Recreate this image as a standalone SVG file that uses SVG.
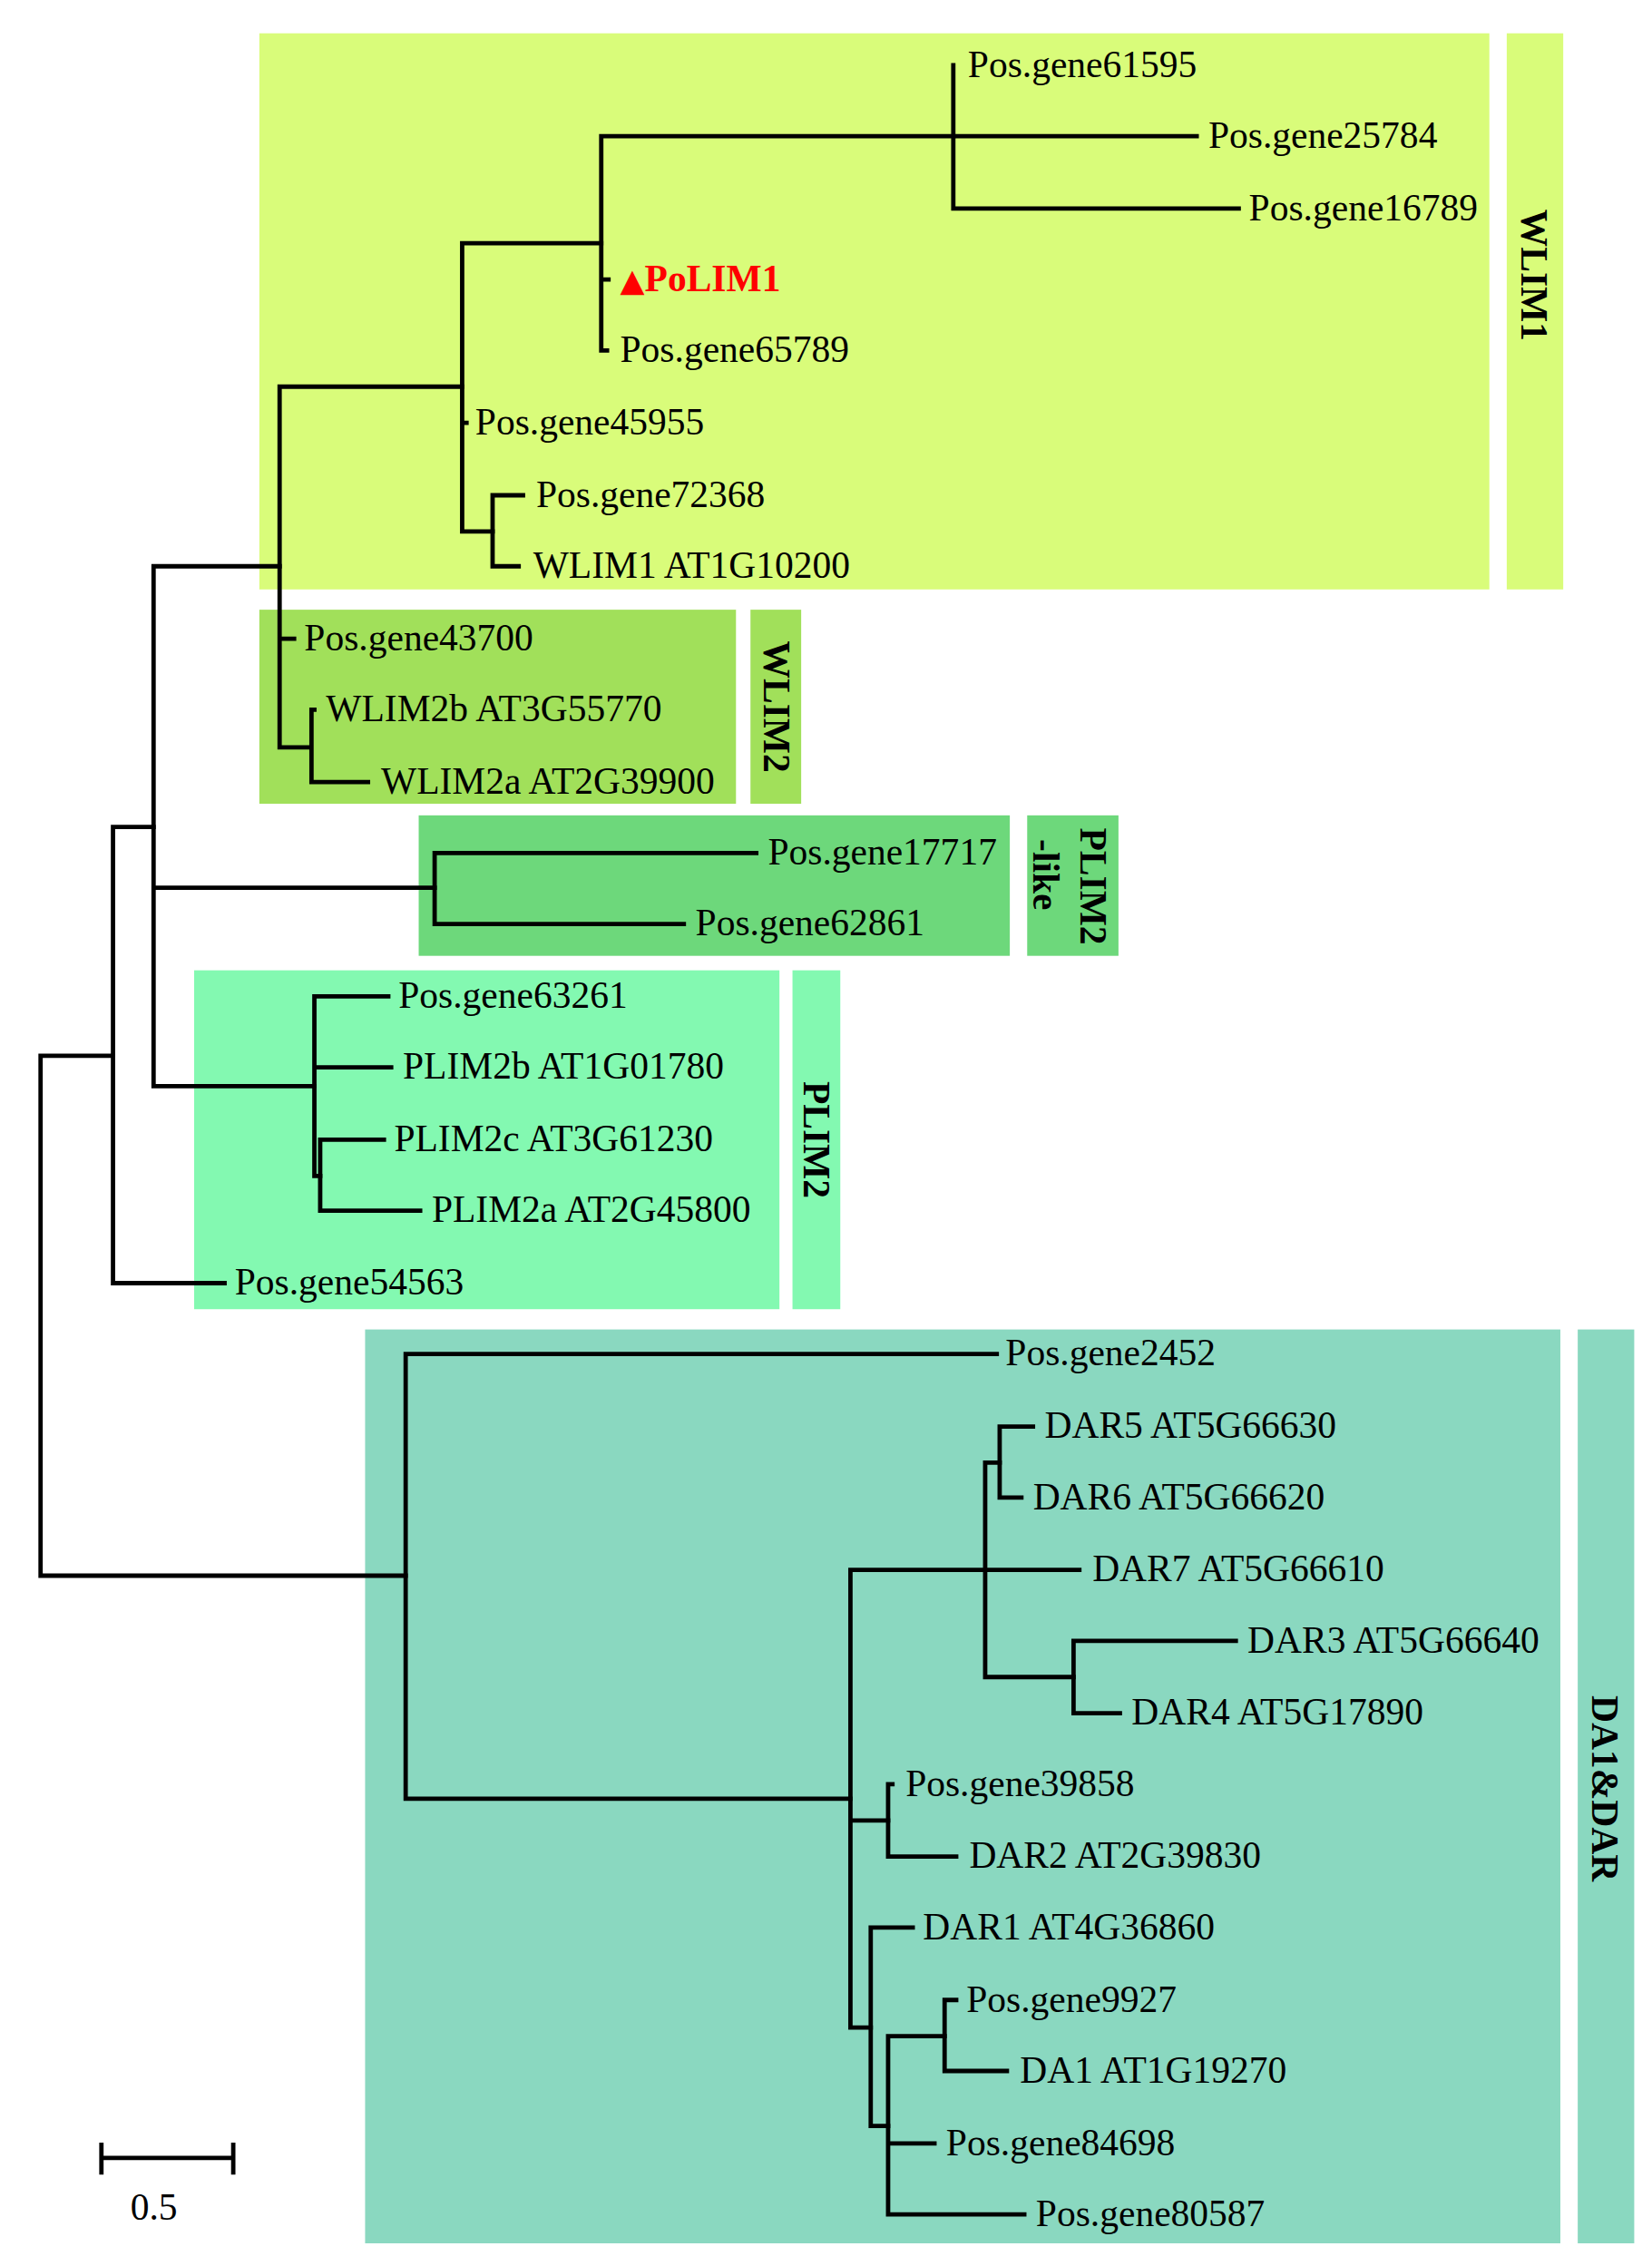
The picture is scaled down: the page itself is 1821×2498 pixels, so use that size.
<svg xmlns="http://www.w3.org/2000/svg" width="1821" height="2498" viewBox="0 0 1821 2498">
<style>
.t{font-family:"Liberation Serif","DejaVu Serif",serif;font-size:26px;fill:#000}
.r{fill:#ff0000;font-weight:bold}
.lab{font-family:"Liberation Serif",serif;font-size:26px;font-weight:bold;fill:#000;text-anchor:middle}
.e{stroke:#000;stroke-width:3;fill:none;stroke-linecap:square}
</style>
<rect width="1821" height="2498" fill="#fff"/>
<g transform="scale(1.597,1.5965)">
<g id="clades">
<rect x="179" y="23" width="849" height="384" fill="#d9fc7a"/>
<rect x="1040" y="23" width="39" height="384" fill="#d9fc7a"/>
<rect x="179" y="421" width="329" height="134" fill="#a1e05a"/>
<rect x="518" y="421" width="35" height="134" fill="#a1e05a"/>
<rect x="289" y="563" width="408" height="97" fill="#6dd87b"/>
<rect x="709" y="563" width="63" height="97" fill="#6dd87b"/>
<rect x="134" y="670" width="404" height="234" fill="#83f9b1"/>
<rect x="547" y="670" width="33" height="234" fill="#83f9b1"/>
<rect x="252" y="918" width="825" height="631" fill="#8ad8c0"/>
<rect x="1089" y="918" width="39" height="631" fill="#8ad8c0"/>
<text class="lab" transform="translate(1050,190) rotate(90)">WLIM1</text>
<text class="lab" transform="translate(527,488) rotate(90)">WLIM2</text>
<text class="lab" transform="translate(746,612) rotate(90)">PLIM2</text>
<text class="lab" transform="translate(713,604) rotate(90)">-like</text>
<text class="lab" transform="translate(555,787) rotate(90)">PLIM2</text>
<text class="lab" transform="translate(1099,1235) rotate(90)">DA1&amp;DAR</text>
</g>
<g id="connectors">
<path class="e" d="M28,729V1088M28,729H78M28,1088H280"/>
<path class="e" d="M78,571V886M78,571H106M78,886H155"/>
<path class="e" d="M106,391V750M106,391H193M106,613H300M106,750H217"/>
<path class="e" d="M193,267V516M193,267H319M193,441H203M193,516H213"/>
<path class="e" d="M215,490V540M215,490H217M215,540H254"/>
<path class="e" d="M319,168V367M319,168H415M319,292H322M319,367H340"/>
<path class="e" d="M415,94V242M415,94H658M415,193H420M415,242H419"/>
<path class="e" d="M658,45V144M658,94H826M658,144H855"/>
<path class="e" d="M340,342V391M340,342H361M340,391H358"/>
<path class="e" d="M300,589V638M300,589H522M300,638H472"/>
<path class="e" d="M217,688V812M217,688H268M217,737H270M217,812H221"/>
<path class="e" d="M221,787V836M221,787H265M221,836H290"/>
<path class="e" d="M280,935V1242M280,935H688M280,1242H587"/>
<path class="e" d="M587,1084V1400M587,1084H745M587,1257H613M587,1400H601"/>
<path class="e" d="M680,1010V1158M680,1010H690M680,1158H741"/>
<path class="e" d="M690,985V1034M690,985H713M690,1034H705"/>
<path class="e" d="M741,1133V1183M741,1133H853M741,1183H773"/>
<path class="e" d="M613,1232V1282M613,1232H616M613,1282H660"/>
<path class="e" d="M601,1331V1468M601,1331H630M601,1468H613"/>
<path class="e" d="M613,1406V1529M613,1406H652M613,1480H645M613,1529H707"/>
<path class="e" d="M652,1381V1430M652,1381H660M652,1430H695"/>
<path class="e" d="M70,1490H161M70,1481V1500M161,1481V1500"/>
</g>
<g id="leaves">
<text class="t" x="668" y="53">Pos.gene61595</text>
<text class="t" x="834" y="102">Pos.gene25784</text>
<text class="t" x="862" y="152">Pos.gene16789</text>
<text class="t r" x="428" y="201"><tspan font-family="DejaVu Sans" font-size="22">▲</tspan>PoLIM1</text>
<text class="t" x="428" y="250">Pos.gene65789</text>
<text class="t" x="328" y="300">Pos.gene45955</text>
<text class="t" x="370" y="350">Pos.gene72368</text>
<text class="t" x="368" y="399">WLIM1 AT1G10200</text>
<text class="t" x="210" y="449">Pos.gene43700</text>
<text class="t" x="225" y="498">WLIM2b AT3G55770</text>
<text class="t" x="263" y="548">WLIM2a AT2G39900</text>
<text class="t" x="530" y="597">Pos.gene17717</text>
<text class="t" x="480" y="646">Pos.gene62861</text>
<text class="t" x="275" y="696">Pos.gene63261</text>
<text class="t" x="278" y="745">PLIM2b AT1G01780</text>
<text class="t" x="272" y="795">PLIM2c AT3G61230</text>
<text class="t" x="298" y="844">PLIM2a AT2G45800</text>
<text class="t" x="162" y="894">Pos.gene54563</text>
<text class="t" x="694" y="943">Pos.gene2452</text>
<text class="t" x="721" y="993">DAR5 AT5G66630</text>
<text class="t" x="713" y="1042">DAR6 AT5G66620</text>
<text class="t" x="754" y="1092">DAR7 AT5G66610</text>
<text class="t" x="861" y="1141">DAR3 AT5G66640</text>
<text class="t" x="781" y="1191">DAR4 AT5G17890</text>
<text class="t" x="625" y="1240">Pos.gene39858</text>
<text class="t" x="669" y="1290">DAR2 AT2G39830</text>
<text class="t" x="637" y="1339">DAR1 AT4G36860</text>
<text class="t" x="667" y="1389">Pos.gene9927</text>
<text class="t" x="704" y="1438">DA1 AT1G19270</text>
<text class="t" x="653" y="1488">Pos.gene84698</text>
<text class="t" x="715" y="1537">Pos.gene80587</text>
<text class="t" x="90" y="1533">0.5</text>
</g>
</g>
</svg>
